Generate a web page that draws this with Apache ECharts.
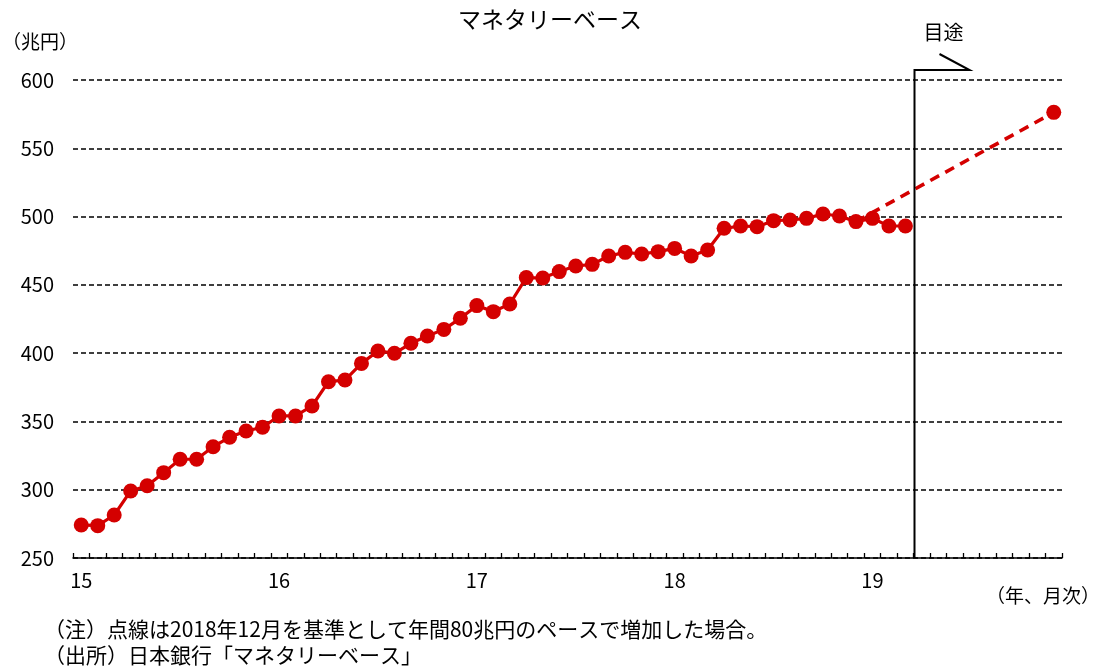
<!DOCTYPE html>
<html>
<head>
<meta charset="utf-8">
<script src="https://cdn.jsdelivr.net/npm/echarts@6/dist/echarts.min.js"></script>
<style>
  html, body { margin: 0; padding: 0; background: #fff; }
  #chart { width: 1100px; height: 667px; }
</style>
</head>
<body>
<div id="chart"></div>
<script>
// 年ラベル（各年1月に表示）
const yearLabels = ['15', '16', '17', '18', '19'];
const monthNumbers = [1, 2, 3, 4, 5, 6, 7, 8, 9, 10, 11, 12];

// マネタリーベース（兆円）、2015年1月〜2019年3月
const monetaryBase = [
  274.2, 273.7, 281.5, 299.1, 302.9, 312.5, 322.3, 322.3, 331.5, 338.4, 343.0, 345.7,
  354.0, 354.0, 361.3, 379.1, 380.3, 392.5, 401.6, 399.9, 407.2, 412.6, 417.4, 425.5,
  434.8, 430.4, 436.0, 455.3, 455.0, 459.7, 463.8, 465.0, 471.1, 473.8, 472.6, 474.3,
  476.7, 471.1, 475.5, 491.4, 493.1, 492.6, 497.0, 497.5, 498.7, 501.9, 500.4, 496.3,
  498.7, 493.1, 493.1
];

// 点線：2018年12月から年間80兆円ペース
const guideCategories = ['18/12', '19/12'];
const guideValues = [496.3, 576.3];

// 目途の縦線（この月と次の月の境目）
const markerMonths = ['19/3', '19/4'];

const yTicks = { min: 250, max: 600, interval: 50 };

const categories = [];
yearLabels.forEach(y => monthNumbers.forEach(m => categories.push(y + '/' + m)));

const FONT = "'Liberation Sans Narrow', 'Noto Sans CJK JP', sans-serif";
const JFONT = "'Noto Sans CJK JP', sans-serif";
const RED = '#d40000';

const chart = echarts.init(document.getElementById('chart'), null, { renderer: 'canvas' });

chart.setOption({
  backgroundColor: '#ffffff',
  animation: false,
  grid: { left: 73, right: 38, top: 80, bottom: 109 },
  xAxis: {
    type: 'category',
    data: categories,
    boundaryGap: true,
    axisLine: { lineStyle: { color: '#000', width: 1.5 } },
    axisTick: { show: true, inside: true, length: 5, interval: 0, lineStyle: { color: '#000', width: 1.3 } },
    axisLabel: {
      interval: 0,
      margin: 12,
      color: '#000',
      fontSize: 20,
      fontFamily: FONT,
      formatter: v => (v.split('/')[1] === '1' ? v.split('/')[0] : '')
    },
    splitLine: { show: false }
  },
  yAxis: {
    type: 'value',
    min: yTicks.min,
    max: yTicks.max,
    interval: yTicks.interval,
    axisLine: { show: false },
    axisTick: { show: false },
    axisLabel: { margin: 19, color: '#000', fontSize: 20, fontFamily: FONT },
    splitLine: { show: true, lineStyle: { color: '#000', width: 1.5, type: [5, 3] } }
  },
  series: [
    {
      type: 'line',
      data: monetaryBase,
      symbol: 'circle',
      symbolSize: 15,
      lineStyle: { color: RED, width: 3.2 },
      itemStyle: { color: RED },
      z: 3
    },
    {
      type: 'line',
      data: guideCategories.map((c, i) => ({
        value: [c, guideValues[i]],
        symbol: i === guideCategories.length - 1 ? 'circle' : 'none'
      })),
      symbolSize: 15,
      lineStyle: { color: RED, width: 3.6, type: [10, 7] },
      itemStyle: { color: RED },
      z: 2
    }
  ],
  graphic: [
    { type: 'text', id: 'title', left: 'center', top: 8,
      style: { text: 'マネタリーベース', fontSize: 23, fontFamily: JFONT, fill: '#000' } },
    { type: 'text', id: 'unit', left: 2, top: 32,
      style: { text: '（兆円）', fontSize: 19, fontFamily: JFONT, fill: '#000' } },
    { type: 'text', id: 'xunit', right: 0, top: 586,
      style: { text: '（年、月次）', fontSize: 19, fontFamily: JFONT, fill: '#000' } },
    { type: 'text', id: 'note1', left: 44, top: 619,
      style: { text: '（注）点線は2018年12月を基準として年間80兆円のペースで増加した場合。', fontSize: 21, fontFamily: JFONT, fill: '#000' } },
    { type: 'text', id: 'note2', left: 44, top: 645,
      style: { text: '（出所）日本銀行「マネタリーベース」', fontSize: 21, fontFamily: JFONT, fill: '#000' } }
  ]
});

// 目途の縦線と注記
const xa = chart.convertToPixel({ xAxisIndex: 0 }, markerMonths[0]);
const xb = chart.convertToPixel({ xAxisIndex: 0 }, markerMonths[1]);
const xm = Math.round((xa + xb) / 2) + 0.5;
const yBottom = chart.convertToPixel({ yAxisIndex: 0 }, yTicks.min);
const yTop = chart.convertToPixel({ yAxisIndex: 0 }, yTicks.max) - 10;

chart.setOption({
  graphic: [
    { type: 'polyline', id: 'guideLine', z: 10,
      shape: { points: [[xm, yBottom], [xm, yTop], [xm + 55, yTop], [xm + 25, yTop - 16]] },
      style: { stroke: '#000', lineWidth: 2, fill: null } },
    { type: 'text', id: 'guideLabel', x: xm + 29, y: yTop - 38, z: 10,
      style: { text: '目途', fontSize: 20, fontFamily: JFONT, fill: '#000', align: 'center', verticalAlign: 'middle' } }
  ]
});
</script>
</body>
</html>
